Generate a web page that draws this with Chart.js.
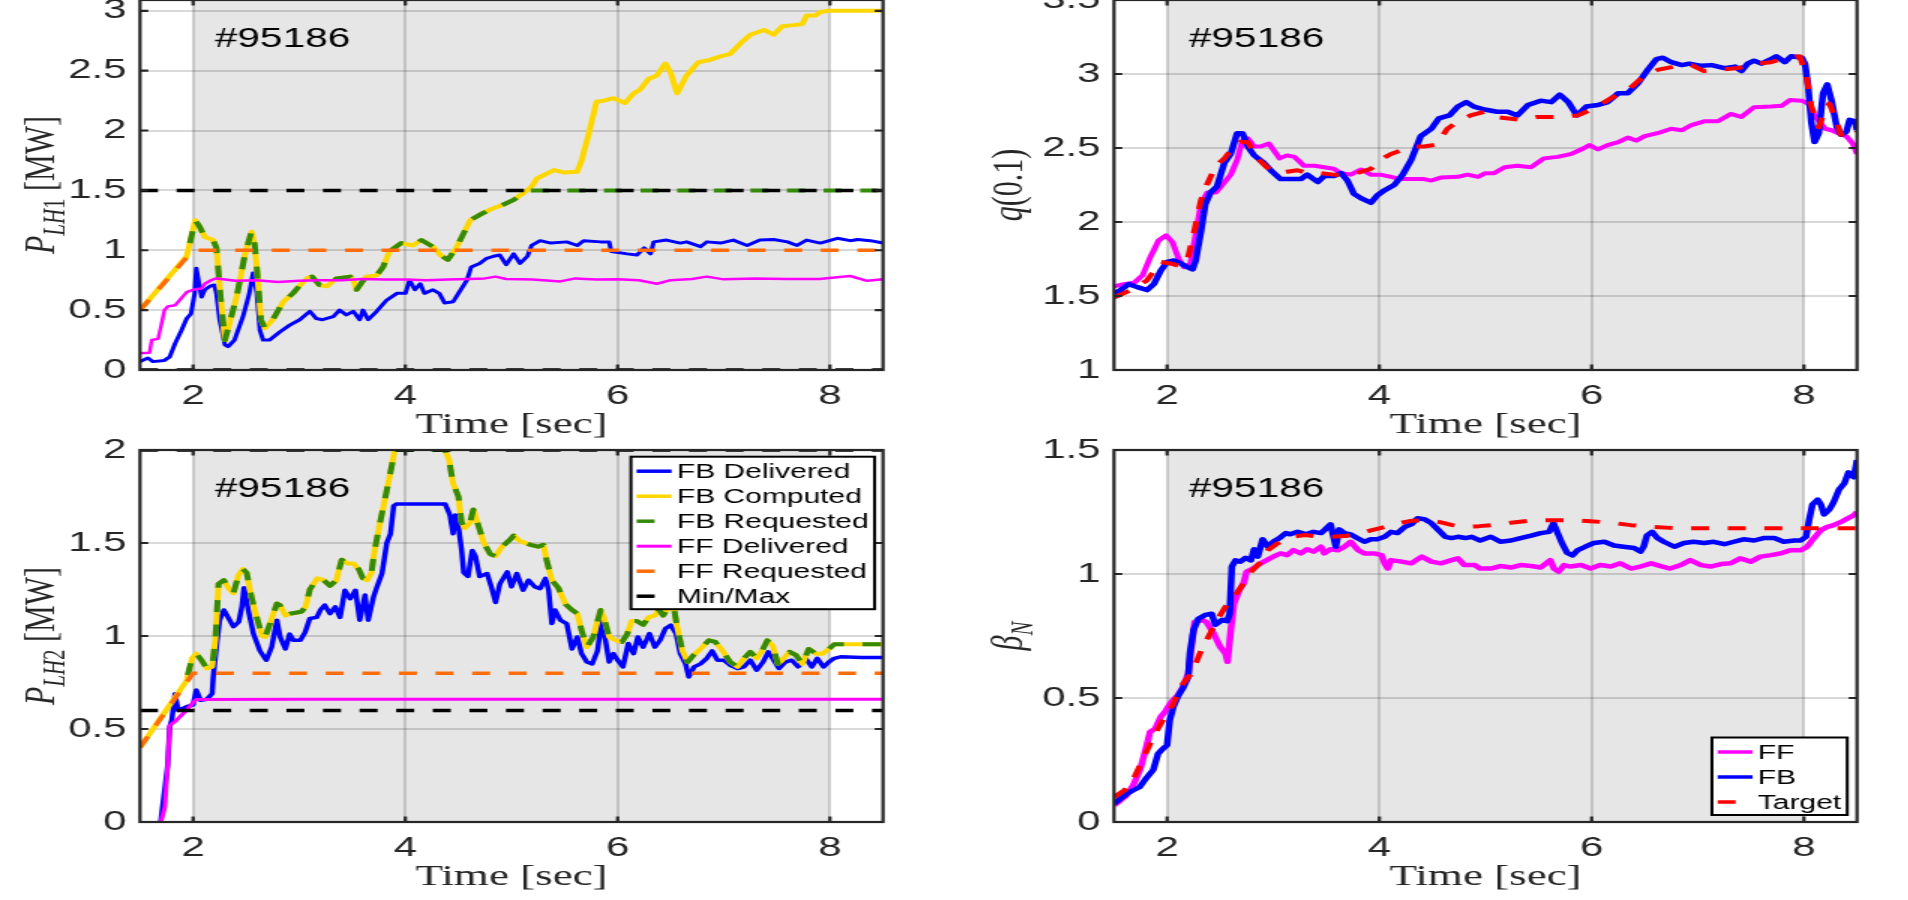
<!DOCTYPE html>
<html>
<head>
<meta charset="utf-8">
<script src="https://cdn.jsdelivr.net/npm/chart.js@4.4.1/dist/chart.umd.min.js"></script>
<style>
html, body { margin: 0; padding: 0; background: #fff; overflow: hidden; width: 1908px; height: 900px; position: relative; }
.panel { position: absolute; transform-origin: 0 0; transform: scaleX(1.5); }
.panel canvas { display: block; }
</style>
</head>
<body>
<div class="panel" style="left:0.4px; top:-40px; width:602px; height:493px"><canvas id="lh1"></canvas></div>
<div class="panel" style="left:973.5px; top:-40px; width:602px; height:493px"><canvas id="q01"></canvas></div>
<div class="panel" style="left:0.4px; top:410px; width:602px; height:495px"><canvas id="lh2"></canvas></div>
<div class="panel" style="left:973.5px; top:410px; width:602px; height:495px"><canvas id="beta"></canvas></div>
<script>
// ---- data (time [s], value) ----
var timeTicks = [2, 4, 6, 8];
var timeRange = [1.5, 8.5];
var shadeSpan = [2, 8];
var shotLabel = '#95186';

var lh1Range = [0, 3.09];
var lh1Ticks = [0, 0.5, 1, 1.5, 2, 2.5, 3];
var q01Range = [1, 3.5];
var q01Ticks = [1, 1.5, 2, 2.5, 3, 3.5];
var lh2Range = [0, 2];
var lh2Ticks = [0, 0.5, 1, 1.5, 2];
var betaRange = [0, 1.5];
var betaTicks = [0, 0.5, 1, 1.5];

var lh1FbDelivered = [[1.5,0.07],[1.575,0.10],[1.62,0.07],[1.73,0.08],[1.78,0.11],[1.83,0.22],[1.89,0.33],[1.94,0.43],[1.98,0.47],[2.015,0.64],[2.03,0.85],[2.06,0.70],[2.08,0.61],[2.11,0.67],[2.16,0.70],[2.20,0.71],[2.22,0.64],[2.25,0.42],[2.30,0.21],[2.33,0.195],[2.39,0.25],[2.47,0.445],[2.53,0.64],[2.565,0.81],[2.60,0.64],[2.63,0.33],[2.66,0.25],[2.72,0.25],[2.82,0.32],[2.91,0.375],[3.005,0.42],[3.10,0.49],[3.16,0.43],[3.22,0.42],[3.32,0.445],[3.38,0.50],[3.445,0.46],[3.51,0.49],[3.57,0.42],[3.60,0.50],[3.65,0.42],[3.73,0.49],[3.82,0.58],[3.92,0.64],[4.0,0.64],[4.04,0.75],[4.09,0.67],[4.14,0.72],[4.18,0.64],[4.26,0.67],[4.32,0.64],[4.37,0.56],[4.45,0.57],[4.50,0.64],[4.58,0.75],[4.62,0.86],[4.70,0.89],[4.76,0.93],[4.83,0.95],[4.89,0.96],[4.95,0.88],[5.02,0.97],[5.08,0.89],[5.15,0.95],[5.19,1.04],[5.27,1.08],[5.37,1.06],[5.52,1.07],[5.62,1.04],[5.68,1.08],[5.84,1.07],[5.92,1.07],[5.94,0.99],[6.09,0.97],[6.18,0.96],[6.25,1.02],[6.31,0.97],[6.34,1.07],[6.46,1.085],[6.59,1.06],[6.65,1.07],[6.78,1.03],[6.84,1.07],[6.97,1.06],[7.09,1.085],[7.22,1.04],[7.34,1.085],[7.47,1.09],[7.60,1.07],[7.69,1.04],[7.78,1.085],[7.91,1.06],[8.07,1.10],[8.19,1.08],[8.26,1.09],[8.38,1.08],[8.5,1.06]];
var lh1FbComputed = [[1.5,0.5],[1.94,0.95],[1.98,1.10],[2.02,1.25],[2.06,1.2],[2.11,1.11],[2.19,1.085],[2.22,1.02],[2.26,0.6],[2.30,0.25],[2.34,0.38],[2.41,0.61],[2.49,0.97],[2.55,1.155],[2.58,1.05],[2.60,0.86],[2.64,0.42],[2.675,0.35],[2.75,0.42],[2.85,0.57],[2.94,0.64],[3.02,0.72],[3.08,0.77],[3.12,0.78],[3.19,0.71],[3.26,0.70],[3.35,0.765],[3.48,0.78],[3.51,0.75],[3.54,0.67],[3.58,0.72],[3.63,0.78],[3.73,0.79],[3.79,0.86],[3.85,0.99],[3.96,1.06],[4.07,1.04],[4.15,1.085],[4.26,1.03],[4.33,0.96],[4.40,0.92],[4.48,1.02],[4.61,1.25],[4.73,1.31],[4.80,1.34],[4.92,1.38],[5.02,1.42],[5.10,1.47],[5.18,1.52],[5.24,1.60],[5.40,1.67],[5.49,1.65],[5.62,1.655],[5.66,1.75],[5.73,1.98],[5.80,2.24],[5.87,2.25],[5.96,2.27],[6.07,2.23],[6.15,2.31],[6.21,2.34],[6.29,2.43],[6.37,2.46],[6.45,2.56],[6.50,2.48],[6.56,2.31],[6.65,2.46],[6.76,2.57],[6.87,2.59],[6.97,2.62],[7.06,2.64],[7.16,2.73],[7.25,2.80],[7.38,2.84],[7.47,2.80],[7.55,2.87],[7.66,2.88],[7.74,2.89],[7.78,2.96],[7.86,2.96],[7.91,2.99],[7.99,3.0],[8.5,3.0]];
var lh1FbRequested = [[1.97,1.06],[2.02,1.25],[2.06,1.2],[2.11,1.11],[2.19,1.085],[2.22,1.02],[2.26,0.6],[2.30,0.25],[2.34,0.38],[2.41,0.61],[2.49,0.97],[2.55,1.155],[2.58,1.05],[2.60,0.86],[2.64,0.42],[2.675,0.35],[2.75,0.42],[2.85,0.57],[2.94,0.64],[3.02,0.72],[3.08,0.77],[3.12,0.78],[3.19,0.71],[3.26,0.70],[3.35,0.765],[3.48,0.78],[3.51,0.75],[3.54,0.67],[3.58,0.72],[3.63,0.78],[3.73,0.79],[3.79,0.86],[3.85,0.99],[3.96,1.06],[4.07,1.04],[4.15,1.085],[4.26,1.03],[4.33,0.96],[4.40,0.92],[4.48,1.02],[4.61,1.25],[4.73,1.31],[4.80,1.34],[4.92,1.38],[5.02,1.42],[5.10,1.47],[5.17,1.5],[8.5,1.5]];
var lh1FfDelivered = [[1.5,0.14],[1.59,0.145],[1.61,0.25],[1.67,0.26],[1.70,0.375],[1.73,0.50],[1.76,0.53],[1.83,0.54],[1.89,0.60],[1.94,0.65],[2.0,0.67],[2.08,0.68],[2.11,0.72],[2.17,0.75],[2.22,0.765],[2.4,0.745],[2.6,0.75],[2.8,0.735],[3.0,0.745],[3.2,0.75],[3.4,0.75],[3.6,0.76],[3.8,0.755],[4.0,0.755],[4.2,0.75],[4.4,0.755],[4.6,0.76],[4.75,0.765],[4.85,0.78],[4.95,0.76],[5.2,0.755],[5.46,0.74],[5.6,0.765],[5.8,0.755],[6.0,0.757],[6.2,0.75],[6.37,0.72],[6.5,0.75],[6.7,0.76],[6.84,0.78],[7.0,0.757],[7.3,0.765],[7.6,0.76],[7.9,0.76],[8.19,0.785],[8.35,0.745],[8.5,0.757]];
var lh1FfRequested = [[1.5,0.5],[2.0,1.0],[8.5,1.0]];
var lh1Max = [[1.5,1.5],[8.5,1.5]];
var lh1Min = [[1.5,0],[8.5,0]];

var q01Ff = [[1.5,1.565],[1.59,1.58],[1.69,1.59],[1.77,1.64],[1.84,1.76],[1.92,1.875],[1.99,1.91],[2.05,1.865],[2.11,1.75],[2.16,1.695],[2.22,1.72],[2.27,1.92],[2.32,2.125],[2.38,2.20],[2.46,2.20],[2.52,2.25],[2.60,2.32],[2.66,2.42],[2.71,2.55],[2.76,2.565],[2.82,2.51],[2.88,2.51],[2.96,2.53],[3.06,2.43],[3.13,2.45],[3.20,2.44],[3.29,2.38],[3.39,2.38],[3.48,2.37],[3.57,2.36],[3.64,2.33],[3.73,2.32],[3.83,2.355],[3.92,2.32],[4.01,2.32],[4.11,2.305],[4.20,2.29],[4.30,2.29],[4.42,2.29],[4.49,2.28],[4.58,2.30],[4.74,2.305],[4.83,2.32],[4.93,2.305],[5.0,2.33],[5.08,2.33],[5.18,2.37],[5.30,2.38],[5.43,2.37],[5.55,2.43],[5.68,2.44],[5.81,2.46],[5.93,2.50],[5.98,2.52],[6.06,2.49],[6.15,2.52],[6.25,2.54],[6.34,2.57],[6.42,2.55],[6.50,2.58],[6.62,2.60],[6.75,2.63],[6.85,2.62],[6.94,2.655],[7.06,2.68],[7.19,2.68],[7.31,2.73],[7.41,2.71],[7.53,2.775],[7.69,2.78],[7.79,2.785],[7.87,2.825],[7.98,2.82],[8.04,2.80],[8.10,2.72],[8.20,2.63],[8.26,2.62],[8.32,2.60],[8.40,2.58],[8.46,2.53],[8.5,2.46]];
var q01Fb = [[1.5,1.515],[1.56,1.54],[1.64,1.58],[1.72,1.56],[1.81,1.54],[1.875,1.58],[1.94,1.67],[2.0,1.73],[2.065,1.74],[2.13,1.72],[2.19,1.695],[2.24,1.68],[2.27,1.74],[2.32,1.94],[2.36,2.12],[2.41,2.20],[2.47,2.24],[2.54,2.40],[2.60,2.46],[2.66,2.60],[2.71,2.60],[2.76,2.51],[2.82,2.45],[2.91,2.40],[2.99,2.34],[3.07,2.29],[3.16,2.29],[3.26,2.29],[3.32,2.32],[3.42,2.27],[3.48,2.31],[3.57,2.31],[3.64,2.33],[3.70,2.28],[3.76,2.19],[3.83,2.16],[3.92,2.13],[3.98,2.18],[4.05,2.215],[4.14,2.25],[4.22,2.32],[4.30,2.42],[4.39,2.58],[4.49,2.63],[4.56,2.70],[4.66,2.72],[4.74,2.78],[4.82,2.81],[4.89,2.78],[4.99,2.76],[5.11,2.745],[5.21,2.745],[5.30,2.72],[5.40,2.79],[5.52,2.82],[5.62,2.81],[5.70,2.86],[5.78,2.81],[5.86,2.72],[5.95,2.78],[6.06,2.79],[6.15,2.81],[6.25,2.87],[6.34,2.87],[6.44,2.94],[6.53,3.03],[6.61,3.10],[6.67,3.11],[6.75,3.08],[6.85,3.06],[6.92,3.07],[7.03,3.055],[7.13,3.06],[7.25,3.04],[7.35,3.05],[7.41,3.02],[7.47,3.07],[7.53,3.09],[7.60,3.07],[7.69,3.10],[7.74,3.12],[7.82,3.08],[7.88,3.12],[7.98,3.11],[8.01,3.07],[8.04,2.915],[8.07,2.67],[8.10,2.54],[8.14,2.60],[8.18,2.87],[8.22,2.93],[8.26,2.82],[8.31,2.64],[8.35,2.59],[8.40,2.61],[8.43,2.69],[8.48,2.68],[8.5,2.62]];
var q01Target = [[1.5,1.49],[1.66,1.54],[1.81,1.605],[1.94,1.73],[2.03,1.72],[2.13,1.70],[2.19,1.74],[2.25,1.92],[2.32,2.15],[2.38,2.26],[2.46,2.38],[2.54,2.43],[2.61,2.49],[2.69,2.54],[2.76,2.54],[2.85,2.43],[2.94,2.37],[3.04,2.33],[3.13,2.34],[3.23,2.35],[3.32,2.33],[3.45,2.33],[3.57,2.32],[3.67,2.32],[3.79,2.33],[3.92,2.36],[4.01,2.42],[4.11,2.46],[4.23,2.49],[4.33,2.51],[4.42,2.51],[4.52,2.52],[4.58,2.565],[4.64,2.63],[4.74,2.68],[4.86,2.72],[4.99,2.745],[5.08,2.71],[5.33,2.69],[5.49,2.71],[5.68,2.71],[5.87,2.72],[6.03,2.77],[6.19,2.84],[6.34,2.89],[6.50,2.99],[6.63,3.03],[6.78,3.05],[6.94,3.06],[7.06,3.02],[7.22,3.03],[7.38,3.04],[7.54,3.07],[7.69,3.08],[7.85,3.11],[7.96,3.12],[8.02,3.0],[8.07,2.78],[8.14,2.64],[8.20,2.76],[8.24,2.80],[8.29,2.71],[8.35,2.59],[8.42,2.63],[8.48,2.63],[8.5,2.61]];

var lh2FbDelivered = [[1.695,0],[1.76,0.30],[1.78,0.51],[1.80,0.55],[1.83,0.69],[1.86,0.60],[1.94,0.62],[2.0,0.63],[2.03,0.71],[2.07,0.655],[2.13,0.66],[2.18,0.69],[2.19,0.78],[2.22,0.94],[2.25,1.085],[2.29,1.14],[2.33,1.10],[2.38,1.05],[2.43,1.075],[2.46,1.157],[2.48,1.26],[2.52,1.14],[2.57,1.01],[2.63,0.92],[2.69,0.87],[2.74,0.94],[2.79,1.085],[2.82,0.995],[2.87,0.93],[2.91,1.01],[2.945,0.977],[3.01,0.977],[3.055,1.02],[3.10,1.094],[3.165,1.10],[3.20,1.14],[3.24,1.166],[3.29,1.12],[3.34,1.157],[3.385,1.10],[3.43,1.246],[3.48,1.20],[3.53,1.246],[3.57,1.085],[3.62,1.22],[3.65,1.085],[3.70,1.21],[3.73,1.26],[3.78,1.336],[3.825,1.50],[3.86,1.55],[3.89,1.70],[3.92,1.71],[4.375,1.71],[4.42,1.65],[4.45,1.55],[4.47,1.65],[4.50,1.59],[4.53,1.46],[4.55,1.34],[4.59,1.32],[4.63,1.46],[4.66,1.43],[4.70,1.32],[4.77,1.336],[4.81,1.264],[4.85,1.18],[4.89,1.28],[4.96,1.345],[5.0,1.264],[5.05,1.336],[5.11,1.246],[5.16,1.30],[5.22,1.264],[5.27,1.255],[5.32,1.31],[5.35,1.246],[5.38,1.067],[5.41,1.14],[5.46,1.085],[5.52,1.067],[5.57,0.93],[5.62,0.995],[5.66,0.905],[5.71,0.86],[5.76,0.85],[5.81,0.92],[5.85,1.085],[5.89,0.96],[5.92,0.86],[5.96,0.905],[6.0,0.87],[6.05,0.834],[6.10,0.96],[6.15,0.905],[6.19,0.995],[6.24,0.94],[6.30,1.013],[6.35,0.94],[6.40,0.977],[6.45,1.04],[6.50,1.058],[6.55,1.013],[6.59,0.905],[6.64,0.85],[6.67,0.78],[6.72,0.834],[6.78,0.85],[6.84,0.88],[6.89,0.92],[6.94,0.87],[7.0,0.87],[7.06,0.843],[7.13,0.825],[7.19,0.834],[7.25,0.87],[7.31,0.816],[7.37,0.86],[7.42,0.915],[7.47,0.87],[7.52,0.825],[7.58,0.86],[7.64,0.87],[7.70,0.834],[7.77,0.88],[7.83,0.834],[7.88,0.88],[7.94,0.834],[7.99,0.86],[8.04,0.88],[8.10,0.888],[8.3,0.885],[8.5,0.885]];
var lh2FbComputed = [[1.5,0.40],[1.94,0.76],[1.99,0.88],[2.03,0.905],[2.08,0.87],[2.13,0.825],[2.18,0.835],[2.21,0.98],[2.24,1.28],[2.29,1.30],[2.33,1.26],[2.38,1.23],[2.43,1.33],[2.47,1.36],[2.505,1.34],[2.55,1.21],[2.60,1.10],[2.65,1.00],[2.68,0.995],[2.73,1.075],[2.79,1.175],[2.82,1.165],[2.87,1.11],[2.91,1.12],[3.02,1.13],[3.06,1.157],[3.10,1.25],[3.17,1.31],[3.23,1.30],[3.29,1.27],[3.35,1.30],[3.40,1.41],[3.45,1.39],[3.51,1.39],[3.56,1.36],[3.60,1.31],[3.64,1.30],[3.68,1.34],[3.71,1.46],[3.76,1.605],[3.82,1.77],[3.87,1.91],[3.90,2.0],[3.95,2.15],[4.1,2.3],[4.25,2.25],[4.34,2.1],[4.375,2.0],[4.41,1.95],[4.45,1.82],[4.50,1.75],[4.53,1.61],[4.56,1.58],[4.61,1.61],[4.64,1.68],[4.69,1.59],[4.74,1.50],[4.80,1.44],[4.85,1.43],[4.91,1.48],[4.99,1.52],[5.02,1.54],[5.08,1.51],[5.18,1.49],[5.25,1.48],[5.30,1.49],[5.33,1.41],[5.38,1.30],[5.44,1.26],[5.51,1.17],[5.57,1.14],[5.62,1.12],[5.66,1.03],[5.71,0.94],[5.77,0.995],[5.84,1.14],[5.87,1.10],[5.92,0.995],[5.98,0.977],[6.04,0.968],[6.09,1.01],[6.13,1.08],[6.18,1.08],[6.24,1.06],[6.29,1.10],[6.35,1.11],[6.39,1.14],[6.43,1.11],[6.48,1.157],[6.53,1.15],[6.56,1.05],[6.61,0.92],[6.66,0.86],[6.72,0.90],[6.78,0.93],[6.86,0.977],[6.92,0.968],[6.99,0.92],[7.06,0.86],[7.13,0.834],[7.19,0.88],[7.25,0.915],[7.31,0.88],[7.36,0.92],[7.41,0.977],[7.46,0.95],[7.51,0.85],[7.55,0.87],[7.62,0.915],[7.68,0.897],[7.74,0.85],[7.80,0.93],[7.87,0.905],[7.93,0.905],[7.99,0.93],[8.04,0.955],[8.5,0.955]];
var lh2FbRequested = [[1.95,0.79],[1.99,0.88],[2.03,0.905],[2.08,0.87],[2.13,0.825],[2.18,0.835],[2.21,0.98],[2.24,1.28],[2.29,1.30],[2.33,1.26],[2.38,1.23],[2.43,1.33],[2.47,1.36],[2.505,1.34],[2.55,1.21],[2.60,1.10],[2.65,1.00],[2.68,0.995],[2.73,1.075],[2.79,1.175],[2.82,1.165],[2.87,1.11],[2.91,1.12],[3.02,1.13],[3.06,1.157],[3.10,1.25],[3.17,1.31],[3.23,1.30],[3.29,1.27],[3.35,1.30],[3.40,1.41],[3.45,1.39],[3.51,1.39],[3.56,1.36],[3.60,1.31],[3.64,1.30],[3.68,1.34],[3.71,1.46],[3.76,1.605],[3.82,1.77],[3.87,1.91],[3.90,2.0],[4.375,2.0],[4.41,1.95],[4.45,1.82],[4.50,1.75],[4.53,1.61],[4.56,1.58],[4.61,1.61],[4.64,1.68],[4.69,1.59],[4.74,1.50],[4.80,1.44],[4.85,1.43],[4.91,1.48],[4.99,1.52],[5.02,1.54],[5.08,1.51],[5.18,1.49],[5.25,1.48],[5.30,1.49],[5.33,1.41],[5.38,1.30],[5.44,1.26],[5.51,1.17],[5.57,1.14],[5.62,1.12],[5.66,1.03],[5.71,0.94],[5.77,0.995],[5.84,1.14],[5.87,1.10],[5.92,0.995],[5.98,0.977],[6.04,0.968],[6.09,1.01],[6.13,1.08],[6.18,1.08],[6.24,1.06],[6.29,1.10],[6.35,1.11],[6.39,1.14],[6.43,1.11],[6.48,1.157],[6.53,1.15],[6.56,1.05],[6.61,0.92],[6.66,0.86],[6.72,0.90],[6.78,0.93],[6.86,0.977],[6.92,0.968],[6.99,0.92],[7.06,0.86],[7.13,0.834],[7.19,0.88],[7.25,0.915],[7.31,0.88],[7.36,0.92],[7.41,0.977],[7.46,0.95],[7.51,0.85],[7.55,0.87],[7.62,0.915],[7.68,0.897],[7.74,0.85],[7.80,0.93],[7.87,0.905],[7.93,0.905],[7.99,0.93],[8.04,0.955],[8.5,0.955]];
var lh2FfDelivered = [[1.695,0],[1.735,0.08],[1.76,0.30],[1.78,0.52],[1.83,0.54],[1.89,0.574],[1.94,0.60],[1.99,0.637],[2.03,0.658],[3.0,0.66],[5.0,0.66],[8.5,0.66]];
var lh2FfRequested = [[1.5,0.4],[2.0,0.8],[8.5,0.8]];
var lh2Max = [[1.5,2],[8.5,2]];
var lh2Min = [[1.5,0.6],[8.5,0.6]];

var betaFf = [[1.5,0.067],[1.56,0.087],[1.62,0.108],[1.68,0.148],[1.745,0.21],[1.79,0.28],[1.84,0.363],[1.89,0.377],[1.94,0.424],[1.98,0.444],[2.04,0.484],[2.10,0.51],[2.15,0.545],[2.20,0.60],[2.23,0.706],[2.26,0.807],[2.33,0.814],[2.37,0.807],[2.43,0.767],[2.50,0.706],[2.55,0.68],[2.57,0.646],[2.60,0.774],[2.63,0.88],[2.68,0.935],[2.72,0.962],[2.75,1.01],[2.81,1.022],[2.88,1.043],[2.94,1.056],[3.0,1.07],[3.07,1.083],[3.13,1.076],[3.19,1.096],[3.26,1.083],[3.32,1.10],[3.38,1.09],[3.45,1.11],[3.48,1.083],[3.54,1.10],[3.61,1.096],[3.67,1.11],[3.73,1.13],[3.80,1.096],[3.86,1.083],[3.95,1.083],[4.02,1.076],[4.05,1.043],[4.08,1.022],[4.11,1.056],[4.21,1.05],[4.30,1.043],[4.40,1.07],[4.49,1.05],[4.58,1.043],[4.68,1.056],[4.74,1.063],[4.80,1.036],[4.90,1.036],[4.95,1.022],[5.05,1.022],[5.14,1.032],[5.24,1.026],[5.33,1.036],[5.43,1.032],[5.52,1.026],[5.61,1.056],[5.645,1.022],[5.69,1.009],[5.74,1.036],[5.80,1.03],[5.90,1.036],[5.99,1.022],[6.08,1.036],[6.18,1.03],[6.27,1.043],[6.37,1.022],[6.46,1.03],[6.56,1.043],[6.65,1.032],[6.74,1.022],[6.84,1.036],[6.93,1.056],[7.03,1.036],[7.12,1.03],[7.22,1.04],[7.31,1.043],[7.40,1.063],[7.50,1.05],[7.59,1.07],[7.69,1.076],[7.78,1.083],[7.87,1.096],[7.97,1.096],[8.03,1.11],[8.09,1.143],[8.16,1.177],[8.22,1.19],[8.28,1.197],[8.35,1.21],[8.41,1.224],[8.47,1.237],[8.5,1.25]];
var betaFb = [[1.5,0.074],[1.56,0.094],[1.62,0.114],[1.68,0.128],[1.74,0.14],[1.81,0.18],[1.87,0.21],[1.915,0.275],[1.96,0.295],[2.0,0.31],[2.025,0.41],[2.06,0.465],[2.10,0.505],[2.15,0.54],[2.20,0.585],[2.215,0.68],[2.25,0.775],[2.295,0.82],[2.36,0.835],[2.42,0.84],[2.455,0.795],[2.52,0.815],[2.565,0.81],[2.59,0.84],[2.61,1.03],[2.645,1.055],[2.69,1.05],[2.74,1.065],[2.79,1.055],[2.82,1.10],[2.855,1.07],[2.90,1.14],[2.95,1.11],[3.0,1.13],[3.06,1.145],[3.12,1.165],[3.16,1.16],[3.23,1.17],[3.31,1.16],[3.38,1.17],[3.45,1.165],[3.49,1.18],[3.54,1.20],[3.59,1.11],[3.62,1.18],[3.67,1.165],[3.73,1.16],[3.79,1.145],[3.86,1.13],[3.92,1.14],[3.98,1.14],[4.05,1.15],[4.11,1.17],[4.17,1.165],[4.24,1.19],[4.30,1.20],[4.36,1.225],[4.43,1.22],[4.49,1.205],[4.55,1.18],[4.62,1.15],[4.68,1.145],[4.74,1.15],[4.81,1.145],[4.87,1.15],[4.95,1.135],[5.05,1.15],[5.14,1.13],[5.24,1.135],[5.33,1.145],[5.43,1.155],[5.52,1.165],[5.60,1.17],[5.64,1.205],[5.68,1.165],[5.72,1.125],[5.77,1.085],[5.82,1.075],[5.865,1.095],[5.94,1.11],[6.02,1.125],[6.12,1.13],[6.21,1.115],[6.30,1.11],[6.40,1.105],[6.46,1.09],[6.49,1.11],[6.52,1.155],[6.57,1.17],[6.62,1.145],[6.68,1.13],[6.78,1.11],[6.87,1.125],[6.96,1.13],[7.06,1.125],[7.15,1.13],[7.25,1.12],[7.34,1.13],[7.43,1.14],[7.53,1.135],[7.62,1.145],[7.72,1.145],[7.81,1.13],[7.91,1.135],[7.97,1.135],[8.02,1.15],[8.05,1.22],[8.08,1.28],[8.13,1.30],[8.16,1.28],[8.19,1.24],[8.24,1.26],[8.28,1.29],[8.33,1.34],[8.38,1.365],[8.42,1.41],[8.47,1.39],[8.5,1.46]];
var betaTarget = [[1.5,0.10],[1.60,0.128],[1.69,0.18],[1.78,0.26],[1.87,0.343],[1.96,0.41],[2.06,0.478],[2.15,0.558],[2.23,0.60],[2.31,0.68],[2.39,0.747],[2.47,0.814],[2.55,0.868],[2.63,0.908],[2.71,0.955],[2.79,1.009],[2.87,1.043],[2.95,1.096],[3.04,1.123],[3.17,1.15],[3.30,1.157],[3.43,1.15],[3.55,1.15],[3.68,1.153],[3.81,1.163],[3.93,1.177],[4.06,1.19],[4.18,1.204],[4.31,1.215],[4.44,1.217],[4.56,1.21],[4.69,1.197],[4.82,1.19],[4.94,1.193],[5.05,1.197],[5.24,1.207],[5.43,1.215],[5.61,1.217],[5.80,1.217],[5.99,1.213],[6.18,1.207],[6.37,1.197],[6.56,1.19],[6.74,1.186],[6.93,1.184],[8.5,1.184]];

// ---- styles ----
var BLUE = '#0000ff', YELLOW = '#ffd700', GREEN = '#368a0a', MAGENTA = '#ff00ff',
    ORANGE = '#ff6d0a', BLACK = '#000000', RED = '#ff0000', INK = '#262626';
var DASH = [12, 12.4];

Chart.defaults.font.family = '"Liberation Sans", Arial, sans-serif';

// matlab-looking axes: shaded window, inner ticks, box, shot label, legend, y label
var matlabLook = {
    id: 'matlabLook',
    beforeDraw: function (chart) {
        var ctx = chart.ctx, a = chart.chartArea, x = chart.scales.x;
        ctx.save();
        ctx.fillStyle = '#ffffff';
        ctx.fillRect(a.left, a.top, a.right - a.left, a.bottom - a.top);
        var x0 = x.getPixelForValue(shadeSpan[0]), x1 = x.getPixelForValue(shadeSpan[1]);
        ctx.fillStyle = '#e6e6e6';
        ctx.fillRect(x0, a.top, x1 - x0, a.bottom - a.top);
        ctx.restore();
    },
    afterDatasetsDraw: function (chart, args, o) {
        var ctx = chart.ctx, a = chart.chartArea, x = chart.scales.x, y = chart.scales.y;
        ctx.save();
        // inner ticks
        ctx.strokeStyle = INK;
        ctx.lineWidth = 2.2;
        ctx.beginPath();
        x.ticks.forEach(function (t) {
            var px = x.getPixelForValue(t.value);
            ctx.moveTo(px, a.bottom); ctx.lineTo(px, a.bottom - 5.5);
            ctx.moveTo(px, a.top); ctx.lineTo(px, a.top + 5.5);
        });
        y.ticks.forEach(function (t) {
            var py = y.getPixelForValue(t.value);
            ctx.moveTo(a.left, py); ctx.lineTo(a.left + 5.5, py);
            ctx.moveTo(a.right, py); ctx.lineTo(a.right - 5.5, py);
        });
        ctx.stroke();
        ctx.strokeRect(a.left, a.top, a.right - a.left, a.bottom - a.top);

        // shot number
        ctx.fillStyle = '#000';
        ctx.font = '27px "Liberation Sans"';
        ctx.textBaseline = 'alphabetic';
        ctx.textAlign = 'left';
        ctx.fillText(shotLabel, a.left + 50, a.top + 47);

        if (o.legend) drawLegend(chart, o.legend);
        if (o.ylabel) drawYLabel(ctx, o.ylabel, a.left + o.ylabelOffset, (a.top + a.bottom) / 2, 30);
        ctx.restore();
    }
};

function drawLegend(chart, lg) {
    var ctx = chart.ctx, a = chart.chartArea;
    var seen = {}, items = [];
    chart.data.datasets.forEach(function (d) {
        if (!seen[d.label]) { seen[d.label] = true; items.push(d); }
    });
    ctx.font = '20px "Liberation Sans"';
    var tw = 0;
    items.forEach(function (d) { tw = Math.max(tw, ctx.measureText(d.label).width); });
    var w = 30.6 + tw + 4;
    var h = 14.5 + (items.length - 1) * 25 + 13;
    var right = a.right - lg.dx;
    var top = lg.corner === 'tr' ? a.top + lg.dy : a.bottom - lg.dy - h;
    var left = right - w;
    ctx.fillStyle = '#fff';
    ctx.fillRect(left, top, w, h);
    ctx.strokeStyle = '#000';
    ctx.lineWidth = 2;
    ctx.setLineDash([]);
    ctx.strokeRect(left, top, w, h);
    items.forEach(function (d, i) {
        var cy = top + 14.5 + i * 25;
        ctx.strokeStyle = d.borderColor;
        ctx.lineWidth = Math.min(d.borderWidth, 3.5);
        ctx.setLineDash(d.borderDash || []);
        ctx.beginPath();
        ctx.moveTo(left + 3.8, cy);
        ctx.lineTo(left + 27.1, cy);
        ctx.stroke();
        ctx.setLineDash([]);
        ctx.fillStyle = '#000';
        ctx.textBaseline = 'middle';
        ctx.textAlign = 'left';
        ctx.fillText(d.label, left + 30.6, cy + 1);
    });
}

function drawYLabel(ctx, segs, bx, cy, size) {
    ctx.save();
    ctx.translate(bx, cy);
    ctx.rotate(-Math.PI / 2);
    ctx.textBaseline = 'alphabetic';
    ctx.textAlign = 'left';
    ctx.fillStyle = INK;
    var parts = segs.map(function (s) {
        var fs = s.sub ? size * 0.7 : size;
        var font = (s.it ? 'italic ' : '') + fs + 'px "Liberation Serif"';
        ctx.font = font;
        return { s: s, font: font, w: ctx.measureText(s.t).width };
    });
    var total = 0;
    parts.forEach(function (p) { total += p.w; });
    var px = -total / 2;
    parts.forEach(function (p) {
        ctx.font = p.font;
        ctx.fillText(p.s.t, px, p.s.sub ? size * 0.22 : 0);
        px += p.w;
    });
    ctx.restore();
}

function line(label, pts, color, width, dash) {
    return {
        label: label,
        data: pts.map(function (p) { return { x: p[0], y: p[1] }; }),
        borderColor: color,
        borderWidth: width,
        borderDash: dash || [],
        borderJoinStyle: 'round',
        pointRadius: 0,
        tension: 0,
        fill: false
    };
}

function makePanel(id, series, range, ticks, look) {
    series.forEach(function (d, i) { d.order = series.length - i; });
    return new Chart(document.getElementById(id), {
        type: 'line',
        data: { datasets: series },
        options: {
            responsive: true,
            maintainAspectRatio: false,
            animation: false,
            events: [],
            layout: { padding: { top: 40, right: 13.33, bottom: 10, left: 0 } },
            scales: {
                x: {
                    type: 'linear', min: timeRange[0], max: timeRange[1],
                    afterBuildTicks: function (s) { s.ticks = timeTicks.map(function (v) { return { value: v }; }); },
                    afterFit: function (s) { s.height = 73; },
                    grid: { color: 'rgba(0,0,0,0.15)', lineWidth: 2, drawTicks: false },
                    border: { display: false },
                    ticks: { color: INK, font: { size: 28 }, padding: 9.5, maxRotation: 0,
                             callback: function (v) { return String(v); } },
                    title: { display: true, text: 'Time [sec]', color: INK, padding: 0,
                             font: { family: '"Liberation Serif", serif', size: 30 } }
                },
                y: {
                    type: 'linear', min: range[0], max: range[1],
                    afterBuildTicks: function (s) { s.ticks = ticks.map(function (v) { return { value: v }; }); },
                    afterFit: function (s) { s.width = 93.33; },
                    grid: { color: 'rgba(0,0,0,0.15)', lineWidth: 2, drawTicks: false },
                    border: { display: false },
                    ticks: { color: INK, font: { size: 28 }, padding: 9,
                             callback: function (v) { return String(v); } }
                }
            },
            plugins: {
                legend: { display: false },
                tooltip: { enabled: false },
                matlabLook: look
            }
        },
        plugins: [matlabLook]
    });
}

makePanel('lh1', [
    line('FB Delivered', lh1FbDelivered, BLUE, 3),
    line('FB Computed', lh1FbComputed, YELLOW, 4),
    line('FB Requested', lh1FbRequested, GREEN, 4, DASH),
    line('FF Delivered', lh1FfDelivered, MAGENTA, 2.5),
    line('FF Requested', lh1FfRequested, ORANGE, 3.5, DASH),
    line('Min/Max', lh1Max, BLACK, 3.5, DASH),
    line('Min/Max', lh1Min, BLACK, 3.5, DASH)
], lh1Range, lh1Ticks, {
    ylabel: [{ t: 'P', it: true }, { t: 'LH', it: true, sub: true }, { t: '1', sub: true }, { t: ' [MW]' }],
    ylabelOffset: -57
});

makePanel('q01', [
    line('FF', q01Ff, MAGENTA, 4),
    line('FB', q01Fb, BLUE, 4.5),
    line('Target', q01Target, RED, 4, DASH)
], q01Range, q01Ticks, {
    ylabel: [{ t: 'q', it: true }, { t: '(0.1)' }],
    ylabelOffset: -61
});

makePanel('lh2', [
    line('FB Delivered', lh2FbDelivered, BLUE, 3.5),
    line('FB Computed', lh2FbComputed, YELLOW, 4),
    line('FB Requested', lh2FbRequested, GREEN, 4, DASH),
    line('FF Delivered', lh2FfDelivered, MAGENTA, 3),
    line('FF Requested', lh2FfRequested, ORANGE, 3.5, DASH),
    line('Min/Max', lh2Max, BLACK, 3.5, DASH),
    line('Min/Max', lh2Min, BLACK, 3.5, DASH)
], lh2Range, lh2Ticks, {
    ylabel: [{ t: 'P', it: true }, { t: 'LH', it: true, sub: true }, { t: '2', sub: true }, { t: ' [MW]' }],
    ylabelOffset: -57,
    legend: { corner: 'tr', dx: 5.6, dy: 6.7 }
});

makePanel('beta', [
    line('FF', betaFf, MAGENTA, 4.5),
    line('FB', betaFb, BLUE, 4.5),
    line('Target', betaTarget, RED, 4, DASH)
], betaRange, betaTicks, {
    ylabel: [{ t: '\u03b2', it: true }, { t: 'N', it: true, sub: true }],
    ylabelOffset: -61,
    legend: { corner: 'br', dx: 6.5, dy: 7 }
});
</script>
</body>
</html>
